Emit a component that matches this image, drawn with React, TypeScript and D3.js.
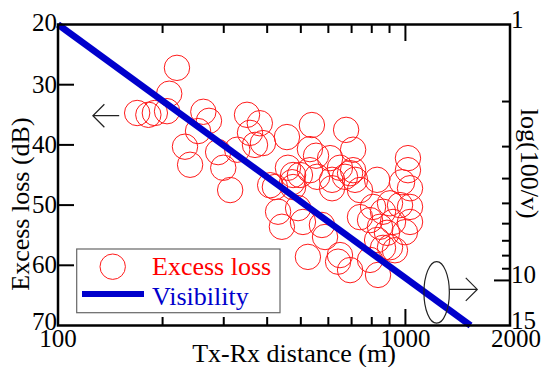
import { useEffect, useRef } from 'react'
import * as d3 from 'd3'

// Excess loss scatter (distance m, loss dB)
const distances = [
  220, 209, 169, 182, 190, 206, 262, 272, 253, 232, 240, 289, 299, 328, 350, 357, 369,
  381, 389, 456, 538, 675, 707, 1017,
  531, 553, 607,
  459, 475, 472,
  421, 475, 557, 615, 648,
  707, 716, 670, 829, 740, 1017, 1031, 978,
  531, 615, 693,
  313, 408, 497,
  430, 491, 441, 507, 575, 587,
  807, 903, 965, 862, 740, 791, 1031, 921, 845, 885, 829, 903, 997, 862, 1031,
  524, 640, 648, 693, 834, 791, 933
]
const losses = [
  27.2, 31.5, 34.7, 35.0, 34.7, 34.4, 34.5, 36.0, 37.7, 40.3, 43.3, 41.2, 43.8, 40.8, 35.0, 38.0, 40.0,
  36.4, 39.7, 38.7, 36.7, 37.5, 40.8, 42.2,
  40.7, 41.8, 42.2,
  43.8, 45.0, 46.2,
  47.0, 47.0, 45.3, 45.8, 43.8,
  44.2, 45.8, 45.3, 45.8, 47.5, 44.2, 47.2, 46.2,
  44.2, 47.2, 44.7,
  47.5, 46.7, 45.0,
  51.1, 50.5, 53.6, 52.8, 53.3, 55.3,
  50.3, 49.7, 50.0, 51.1, 52.0, 52.5, 52.8, 52.8, 53.6, 54.6, 55.8, 57.0, 54.5, 57.1, 50.3,
  58.6, 59.4, 58.3, 60.8, 61.6, 59.1, 57.5
]

// Visibility, right axis log(100/v)
const visDistance = [100, 1540]
const visValue = [1, 15]

const xMinorTicks = [200, 300, 400, 500, 600, 700, 800, 900]
const xMajorTicks = [1000]
const xLabels = [100, 1000, 2000]
const leftTicks = [30, 40, 50, 60]
const leftLabels = [20, 30, 40, 50, 60, 70]
const rightMinorTicks = [2, 3, 4, 5, 6, 7, 8, 9]
const rightMajorTicks = [10]
const rightLabels = [1, 10, 15]

const font = "'Liberation Serif', 'Times New Roman', serif"

export default function App() {
  const svgRef = useRef<SVGSVGElement>(null)
  const width = 543
  const height = 367

  useEffect(() => {
    if (!svgRef.current) return
    const svg = d3.select(svgRef.current)
    svg.selectAll('*').remove()

    const margin = { top: 24.5, right: 33, bottom: 41.5, left: 58 }

    const x = d3.scaleLog()
      .domain([100, 2000])
      .range([margin.left, width - margin.right])

    const y = d3.scaleLinear()
      .domain([20, 70])
      .range([margin.top, height - margin.bottom])

    const yRight = d3.scaleLog()
      .domain([1, 15])
      .range([margin.top, height - margin.bottom])

    const x0 = margin.left
    const x1 = width - margin.right
    const y0 = margin.top
    const y1 = height - margin.bottom

    // Scatter
    distances.forEach((d, i) => {
      svg.append('circle')
        .attr('cx', x(d))
        .attr('cy', y(losses[i]))
        .attr('r', 12.7)
        .style('fill', 'none')
        .style('stroke', '#ff1a1a')
        .style('stroke-width', '1px')
    })

    // Visibility line
    const line = d3.line<number>()
      .x(d => x(visDistance[d]))
      .y(d => yRight(visValue[d]))
    svg.append('path')
      .attr('d', line(visDistance.map((_, i) => i)))
      .style('fill', 'none')
      .style('stroke', '#0000cc')
      .style('stroke-width', '6.5px')

    // Frame
    svg.append('rect')
      .attr('x', x0)
      .attr('y', y0)
      .attr('width', x1 - x0)
      .attr('height', y1 - y0)
      .style('fill', 'none')
      .style('stroke', '#000')
      .style('stroke-width', '2.5px')

    const tick = (xa: number, ya: number, xb: number, yb: number) => {
      svg.append('line')
        .attr('x1', xa).attr('y1', ya)
        .attr('x2', xb).attr('y2', yb)
        .style('stroke', '#000')
        .style('stroke-width', '2px')
    }

    xMinorTicks.forEach(t => {
      tick(x(t), y1, x(t), y1 - 8.5)
      tick(x(t), y0, x(t), y0 + 8.5)
    })
    xMajorTicks.forEach(t => {
      tick(x(t), y1, x(t), y1 - 16.5)
      tick(x(t), y0, x(t), y0 + 16.5)
    })
    leftTicks.forEach(t => tick(x0, y(t), x0 + 16, y(t)))
    rightMinorTicks.forEach(t => tick(x1, yRight(t), x1 - 8, yRight(t)))
    rightMajorTicks.forEach(t => tick(x1, yRight(t), x1 - 16, yRight(t)))

    // Tick labels
    xLabels.forEach(t => {
      svg.append('text')
        .attr('x', t === 2000 ? x(t) + 6 : x(t))
        .attr('y', 347)
        .attr('text-anchor', 'middle')
        .style('font-family', font)
        .style('font-size', '25px')
        .style('fill', '#000')
        .text(t)
    })
    leftLabels.forEach(t => {
      svg.append('text')
        .attr('x', x0 - 1)
        .attr('y', y(t) + (t === 70 ? 4.5 : t === 20 ? 6 : 8))
        .attr('text-anchor', 'end')
        .style('font-family', font)
        .style('font-size', '25px')
        .style('fill', '#000')
        .text(t)
    })
    rightLabels.forEach(t => {
      svg.append('text')
        .attr('x', x1 + 1)
        .attr('y', yRight(t) + 3)
        .attr('text-anchor', 'start')
        .style('font-family', font)
        .style('font-size', '25px')
        .style('fill', '#000')
        .text(t)
    })

    // Axis titles
    svg.append('text')
      .attr('x', (x0 + x1) / 2 + 10)
      .attr('y', 362)
      .attr('text-anchor', 'middle')
      .style('font-family', font)
      .style('font-size', '26px')
      .style('fill', '#000')
      .text('Tx-Rx distance (m)')

    svg.append('text')
      .attr('transform', `translate(29, ${y(50) - 1}) rotate(-90)`)
      .attr('text-anchor', 'middle')
      .style('font-family', font)
      .style('font-size', '26px')
      .style('fill', '#000')
      .text('Excess loss (dB)')

    svg.append('text')
      .attr('transform', `translate(521, ${yRight(3.5)}) rotate(90)`)
      .attr('text-anchor', 'middle')
      .style('font-family', font)
      .style('font-size', '26px')
      .style('fill', '#000')
      .text('log(100/v)')

    // Annotations: arrows pointing to each axis
    const arrow = (xa: number, xb: number, yy: number) => {
      const dir = Math.sign(xb - xa)
      svg.append('path')
        .attr('d', `M${xa},${yy}L${xb},${yy}M${xb - dir * 11.5},${yy - 11.5}L${xb},${yy}L${xb - dir * 11.5},${yy + 11.5}`)
        .style('fill', 'none')
        .style('stroke', '#222')
        .style('stroke-width', '1.2px')
    }
    arrow(x(150), x(126), y(35.15))

    svg.append('ellipse')
      .attr('cx', x(1230))
      .attr('cy', y(64.5))
      .attr('rx', 12.7)
      .attr('ry', 30.8)
      .style('fill', 'none')
      .style('stroke', '#222')
      .style('stroke-width', '1.2px')
    arrow(x(1230) + 12.7, x(1610), y(64.0))

    // Legend
    const lg = svg.append('g')
    lg.append('rect')
      .attr('x', 76.7)
      .attr('y', 249)
      .attr('width', 203.3)
      .attr('height', 63.7)
      .style('fill', '#fff')
      .style('stroke', '#666')
      .style('stroke-width', '1.2px')
    lg.append('circle')
      .attr('cx', 112.7)
      .attr('cy', 266.7)
      .attr('r', 12.7)
      .style('fill', 'none')
      .style('stroke', '#ff1a1a')
      .style('stroke-width', '1px')
    lg.append('line')
      .attr('x1', 82).attr('y1', 294)
      .attr('x2', 144).attr('y2', 294)
      .style('stroke', '#0000cc')
      .style('stroke-width', '6px')
    lg.append('text')
      .attr('x', 152)
      .attr('y', 275)
      .style('font-family', font)
      .style('font-size', '26px')
      .style('fill', '#ff0000')
      .text('Excess loss')
    lg.append('text')
      .attr('x', 152)
      .attr('y', 305)
      .style('font-family', font)
      .style('font-size', '26px')
      .style('fill', '#0000cc')
      .text('Visibility')
  }, [])

  return (
    <svg
      ref={svgRef}
      width={width}
      height={height}
      style={{ position: 'absolute', left: 0, top: 0, background: '#fff' }}
    />
  )
}
